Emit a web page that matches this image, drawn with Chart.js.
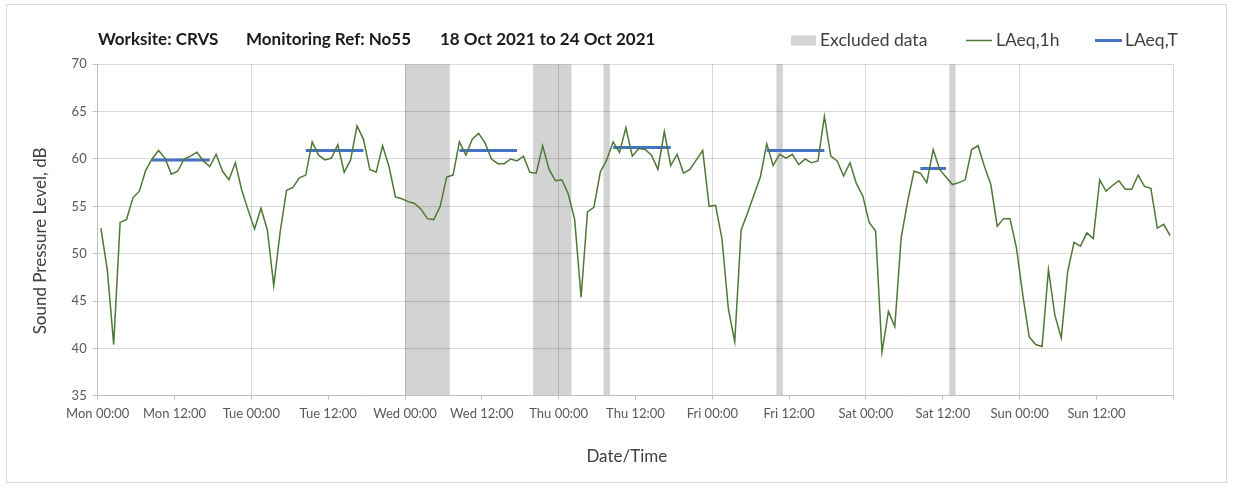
<!DOCTYPE html>
<html><head><meta charset="utf-8">
<script src="https://cdn.jsdelivr.net/npm/chart.js@4.4.1/dist/chart.umd.min.js"></script>
<style>
html,body{margin:0;padding:0;background:#fff;}
#wrap{position:relative;width:1234px;height:490px;}
#frame{position:absolute;left:6px;top:4px;width:1219px;height:477px;border:1px solid #d9d9d9;pointer-events:none;}
canvas{position:absolute;left:0;top:0;}
</style></head><body>
<div id="wrap"><canvas id="c" width="1234" height="490"></canvas><div id="frame"></div></div>
<script>
// ---- data ----
const titleParts = ['Worksite: CRVS', 'Monitoring Ref: No55', '18 Oct 2021 to 24 Oct 2021'];
const legendLabels = ['Excluded data', 'LAeq,1h', 'LAeq,T'];
const tickLabels = ['Mon 00:00','Mon 12:00','Tue 00:00','Tue 12:00','Wed 00:00','Wed 12:00','Thu 00:00','Thu 12:00','Fri 00:00','Fri 12:00','Sat 00:00','Sat 12:00','Sun 00:00','Sun 12:00',''];
// hourly LAeq,1h values (dB), one array per day, hours 00..23
const monday    = [52.7,48.3,40.4,53.3,53.6,55.9,56.6,58.8,60.0,60.9,60.1,58.4,58.7,60.0,60.3,60.7,59.8,59.2,60.5,58.7,57.8,59.6,56.7,54.6];
const tuesday   = [52.6,54.8,52.5,46.6,52.3,56.7,57.0,58.0,58.3,61.8,60.4,59.9,60.1,61.5,58.6,59.9,63.5,62.1,58.9,58.6,61.4,59.2,56.0,55.8];
const wednesday = [55.5,55.3,54.7,53.7,53.6,55.0,58.1,58.3,61.8,60.4,62.1,62.7,61.7,60.0,59.5,59.5,60.0,59.8,60.3,58.6,58.5,61.4,58.9,57.7];
const thursday  = [57.8,56.3,53.6,45.4,54.4,54.9,58.6,59.9,61.8,60.7,63.3,60.3,61.1,61.0,60.4,58.9,62.9,59.3,60.5,58.5,58.9,59.9,60.9,55.0];
const friday    = [55.1,51.6,44.2,40.7,52.5,54.3,56.2,58.1,61.6,59.3,60.5,60.1,60.5,59.4,60.0,59.6,59.8,64.5,60.3,59.8,58.2,59.6,57.4,56.1];
const saturday  = [53.3,52.4,39.6,43.9,42.3,51.7,55.5,58.7,58.5,57.5,61.0,58.9,58.1,57.3,57.5,57.8,61.0,61.4,59.2,57.3,52.9,53.7,53.7,50.6];
const sunday    = [45.6,41.2,40.4,40.2,48.3,43.5,41.1,48.1,51.2,50.8,52.2,51.6,57.8,56.6,57.2,57.7,56.8,56.8,58.3,57.1,56.9,52.7,53.1,51.9];
// LAeq,T periods (hour index from Mon 00:00)
const laeqTStart = [8, 32, 56, 80, 104, 128];
const laeqTEnd   = [17, 41, 65, 89, 113, 132];
const laeqTValue = [59.9, 60.9, 60.9, 61.2, 60.9, 59.0];
// excluded data periods (hours from Mon 00:00)
const excludedStart = [48, 68, 79, 106, 133];
const excludedEnd   = [55, 74, 80, 107, 134];

// ---- build ----
const hourly = [].concat(monday, tuesday, wednesday, thursday, friday, saturday, sunday);
const greenPts = hourly.map((v, i) => ({x: i + 0.5, y: v}));
const bluePts = [];
laeqTStart.forEach((s, k) => {
  bluePts.push({x: s + 0.5, y: laeqTValue[k]}, {x: laeqTEnd[k] + 0.5, y: laeqTValue[k]}, {x: laeqTEnd[k] + 1, y: null});
});

const GREEN = '#4E7836', BLUE = '#4472C4', SHADE = '#d3d3d3';
const GRID = 'rgba(0,0,0,0.15)', AXIS = '#bfbfbf';
const FONT = 'Lato';

const shadePlugin = {
  id: 'shade',
  beforeDraw(chart) {
    const {ctx, chartArea: a, scales: {x}} = chart;
    ctx.save();
    ctx.fillStyle = SHADE;
    excludedStart.forEach((s, i) => {
      const x1 = x.getPixelForValue(s), x2 = x.getPixelForValue(excludedEnd[i]);
      ctx.fillRect(x1, a.top, x2 - x1, a.bottom - a.top);
    });
    ctx.restore();
  }
};

const headerPlugin = {
  id: 'header',
  afterDraw(chart) {
    const ctx = chart.ctx;
    ctx.save();
    ctx.textBaseline = 'alphabetic';
    ctx.fillStyle = '#1a1a1a';
    ctx.font = 'bold 17px ' + FONT;
    const tx = [98, 246, 440];
    titleParts.forEach((t, i) => ctx.fillText(t, tx[i], 44.5));
    // legend
    ctx.fillStyle = SHADE;
    ctx.fillRect(791, 35.5, 25, 10);
    ctx.font = '17.5px ' + FONT;
    ctx.fillStyle = '#404040';
    ctx.fillText(legendLabels[0], 820, 46);
    ctx.strokeStyle = GREEN; ctx.lineWidth = 1.5;
    ctx.beginPath(); ctx.moveTo(966, 40.5); ctx.lineTo(992, 40.5); ctx.stroke();
    ctx.fillStyle = '#404040';
    ctx.fillText(legendLabels[1], 996, 46);
    ctx.strokeStyle = BLUE; ctx.lineWidth = 3;
    ctx.beginPath(); ctx.moveTo(1095, 40.5); ctx.lineTo(1122, 40.5); ctx.stroke();
    ctx.fillText(legendLabels[2], 1125, 46);
    ctx.restore();
  }
};

new Chart(document.getElementById('c'), {
  type: 'line',
  data: {
    datasets: [
      {label: legendLabels[1], data: greenPts, borderColor: GREEN, borderWidth: 1.5, pointRadius: 0, tension: 0, fill: false},
      {label: legendLabels[2], data: bluePts, borderColor: BLUE, borderWidth: 3, pointRadius: 0, tension: 0, fill: false, spanGaps: false}
    ]
  },
  options: {
    responsive: false,
    animation: false,
    devicePixelRatio: 1,
    layout: {padding: {left: 0, right: 60.7, top: 64.3, bottom: 0}},
    plugins: {legend: {display: false}, title: {display: false}, tooltip: {enabled: false}},
    scales: {
      x: {
        type: 'linear', min: 0, max: 168,
        afterBuildTicks: (s) => { s.ticks = tickLabels.map((_, i) => ({value: i * 12})); },
        ticks: {autoSkip: false, maxRotation: 0, padding: 6, color: '#595959', font: {family: FONT, size: 13},
          callback: (v) => tickLabels[Math.round(v / 12)] ?? ''},
        grid: {color: (c) => (c.tick && c.tick.value % 24 === 0) ? GRID : 'rgba(0,0,0,0)', tickColor: AXIS, tickLength: 4, drawTicks: true},
        border: {color: AXIS, width: 1},
        title: {display: true, text: 'Date/Time    ', color: '#404040', font: {family: FONT, size: 17}, padding: {top: 0, bottom: 23}},
        afterFit: (s) => { s.height = 490 - 395.7; }
      },
      y: {
        min: 35, max: 70,
        ticks: {stepSize: 5, padding: 6, color: '#595959', font: {family: FONT, size: 13}},
        grid: {color: GRID, tickColor: AXIS, tickLength: 5},
        border: {color: AXIS, width: 1},
        title: {display: true, text: 'Sound Pressure Level, dB     ', color: '#404040', font: {family: FONT, size: 17}, padding: {top: 30, bottom: 0}},
        afterFit: (s) => { s.width = 97.7; }
      }
    }
  },
  plugins: [shadePlugin, headerPlugin]
});
</script>
</body></html>
